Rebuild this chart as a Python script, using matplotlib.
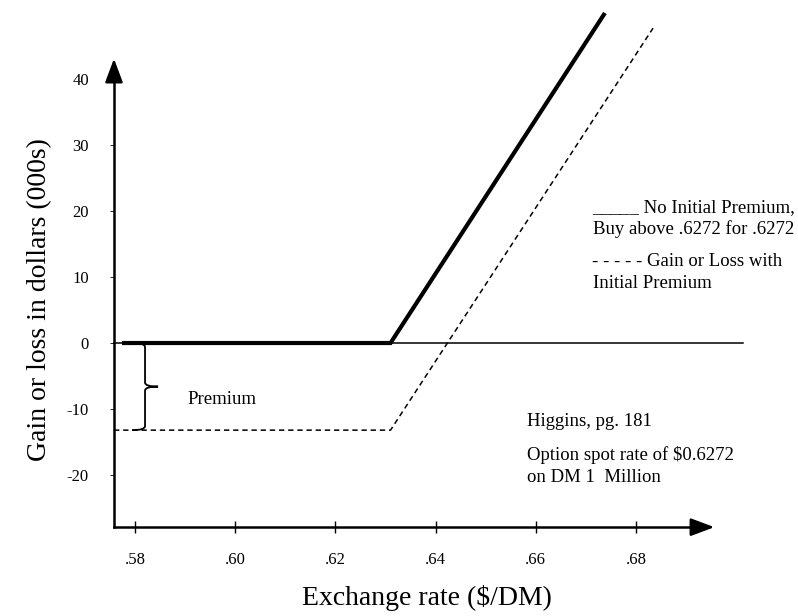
"""Call option payoff diagram: gain or loss with and without the initial premium."""

import matplotlib

matplotlib.use("Agg")
import matplotlib.pyplot as plt  # noqa: E402
from matplotlib.patches import PathPatch  # noqa: E402
from matplotlib.path import Path  # noqa: E402

# exchange rate ($/DM) ticks
RATE_TICKS = [0.58, 0.60, 0.62, 0.64, 0.66, 0.68]
RATE_LABELS = [".58", ".60", ".62", ".64", ".66", ".68"]
GAIN_TICKS = [-20, -10, 0, 10, 20, 30, 40]
GAIN_LABELS = ["-20", "-10", "0", "10", "20", "30", "40"]

# payoff lines (gain in $000s)
NO_PREMIUM_RATE = [0.5774, 0.631, 0.6738]
NO_PREMIUM_GAIN = [0.0, 0.0, 50.0]
WITH_PREMIUM_RATE = [0.5758, 0.631, 0.6834]
WITH_PREMIUM_GAIN = [-13.2, -13.2, 47.7]
ZERO_RATE = [0.5758, 0.7014]
ZERO_GAIN = [0.0, 0.0]

X_MIN, X_MAX = 0.5758, 0.6962   # where the axes lines run
Y_MIN, Y_MAX = -27.9, 43.5

W, H = 798, 616
SERIF = ["Liberation Serif", "DejaVu Serif"]
NOTE_SIZE = 13.5


def draw_brace(ax, x, top, bottom, width=0.0026, tip=0.0026):
    """Curly brace opening to the left, pointing right."""
    mid = 0.5 * (top + bottom)
    hook = 0.6
    verts = [
        (x - width, top), (x, top), (x, top - hook),
        (x, mid + hook),
        (x, mid), (x + tip, mid),
        (x, mid), (x, mid - hook),
        (x, bottom + hook),
        (x, bottom), (x - width, bottom),
    ]
    codes = [
        Path.MOVETO, Path.CURVE3, Path.CURVE3,
        Path.LINETO,
        Path.CURVE3, Path.CURVE3,
        Path.CURVE3, Path.CURVE3,
        Path.LINETO,
        Path.CURVE3, Path.CURVE3,
    ]
    ax.add_patch(PathPatch(Path(verts, codes), fill=False, lw=1.3, color="black"))


def put_text(fig, px, py, label, **kwargs):
    """Place text at a pixel position measured from the top-left corner."""
    fig.text(px / W, 1 - py / H, label, **kwargs)


def main() -> None:
    plt.rcParams["font.family"] = SERIF
    fig = plt.figure(figsize=(W / 100, H / 100), dpi=100)
    ax = fig.add_axes([0, 0, 1, 1])
    ax.set_xlim(0.55305, 0.71234)
    ax.set_ylim(-41.36, 51.97)
    ax.patch.set_alpha(0)

    for side in ("top", "right"):
        ax.spines[side].set_visible(False)
    ax.spines["left"].set_position(("data", X_MIN))
    ax.spines["bottom"].set_position(("data", Y_MIN))
    ax.spines["left"].set_bounds(Y_MIN, Y_MAX - 1.5)
    ax.spines["bottom"].set_bounds(X_MIN, X_MAX - 0.002)
    for side in ("left", "bottom"):
        ax.spines[side].set_linewidth(1.8)

    head = dict(arrowstyle="-|>,head_length=0.8,head_width=0.3",
                color="black", lw=1.8, mutation_scale=18)
    ax.annotate("", xy=(X_MAX, Y_MIN), xytext=(X_MAX - 0.0035, Y_MIN), arrowprops=head)
    ax.annotate("", xy=(X_MIN, Y_MAX), xytext=(X_MIN, Y_MAX - 2.5), arrowprops=head)

    ax.set_xticks(RATE_TICKS, RATE_LABELS)
    ax.set_yticks(GAIN_TICKS, GAIN_LABELS)
    ax.tick_params(axis="x", direction="inout", length=8, width=1.0,
                   labelsize=12, pad=14)
    ax.tick_params(axis="y", direction="out", length=3, width=0.6,
                   labelsize=12, pad=15)

    ax.plot(ZERO_RATE, ZERO_GAIN, color="black", lw=1.1)
    ax.plot(NO_PREMIUM_RATE, NO_PREMIUM_GAIN, color="black", lw=3.0,
            solid_capstyle="butt", solid_joinstyle="miter")
    ax.plot(WITH_PREMIUM_RATE, WITH_PREMIUM_GAIN, color="black", lw=1.1,
            dashes=(3.5, 2.5))

    draw_brace(ax, 0.582, 0.0, WITH_PREMIUM_GAIN[0])

    put_text(fig, 187, 400, "Premium", fontsize=NOTE_SIZE, ha="left", va="center")
    put_text(fig, 427, 598, "Exchange rate ($/DM)", fontsize=20,
             ha="center", va="center")
    put_text(fig, 40, 300, "Gain or loss in dollars (000s)", fontsize=20,
             rotation=90, ha="center", va="center")

    put_text(fig, 795, 208, "_____ No Initial Premium,", fontsize=NOTE_SIZE,
             ha="right", va="center")
    notes = [
        (593, 229, "Buy above .6272 for .6272"),
        (592, 262, "- - - - - Gain or Loss with"),
        (593, 283, "Initial Premium"),
        (527, 422, "Higgins, pg. 181"),
        (527, 455, "Option spot rate of $0.6272"),
        (527, 477, "on DM 1  Million"),
    ]
    for px, py, label in notes:
        put_text(fig, px, py, label, fontsize=NOTE_SIZE, ha="left", va="center")

    fig.savefig("out.png", dpi=100)
    plt.close(fig)


if __name__ == "__main__":
    main()
